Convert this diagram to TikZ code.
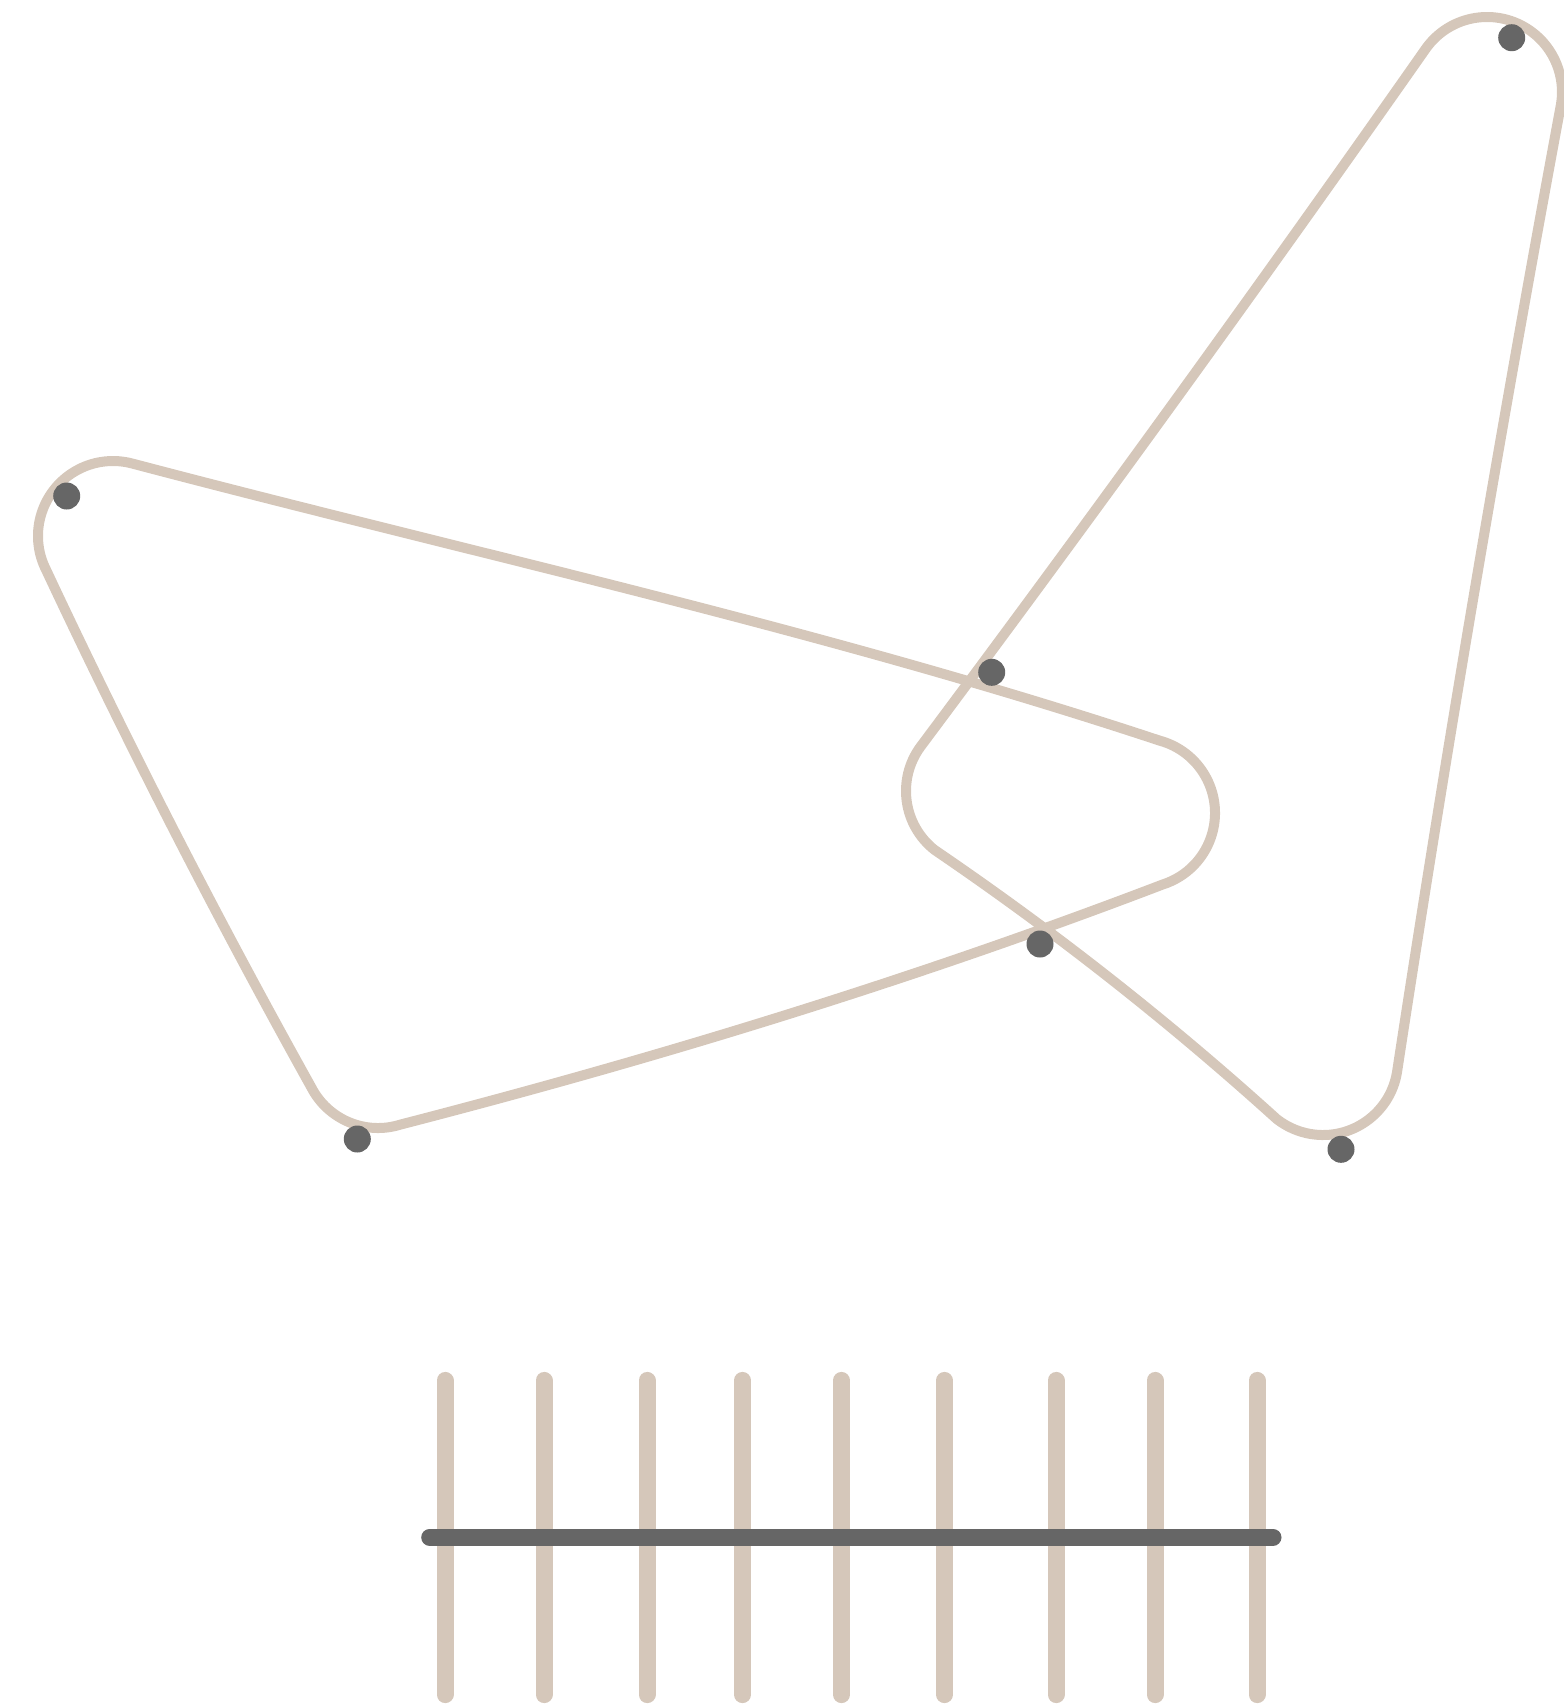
\documentclass[tikz,border=0pt]{standalone}
\definecolor{loopcol}{HTML}{D5C7BA}
\definecolor{dotcol}{HTML}{666666}
\begin{document}
\begin{tikzpicture}[x=1pt,y=-1pt,
  loopline/.style={draw=loopcol, line width=10pt, line join=round},
  dotmark/.style={circle, fill=dotcol, inner sep=0pt, minimum size=27pt},
  tickbar/.style={draw=loopcol, line width=17pt, line cap=round},
  railbar/.style={draw=dotcol, line width=17pt, line cap=round}]
\useasboundingbox (0,0) rectangle (1564,1706);
% left rounded triangle
\draw[loopline] (132.53,463.59)
  .. controls (475.38,553.99) and (822.41,628.95) .. (1159.53,740.59)
  arc[start angle=-74.91, end angle=72.52, radius=75]
  .. controls (913.34,979.80) and (658.74,1057.89) .. (400.53,1124.54)
  arc[start angle=72.52, end angle=152.86, radius=75]
  .. controls (216.97,917.94) and (128.63,745.60) .. (46.26,570.21)
  arc[start angle=152.86, end angle=285.09, radius=75] -- cycle;
% right rounded triangle
\draw[loopline] (1560.95,104.53)
  .. controls (1501.05,426.31) and (1446.39,748.97) .. (1396.95,1072.53)
  arc[start angle=9.62, end angle=128.19, radius=75]
  .. controls (1168.81,1021.42) and (1054.81,931.76) .. (934.63,849.95)
  arc[start angle=128.19, end angle=215.90, radius=75]
  .. controls (1092.40,516.54) and (1261.06,283.54) .. (1426.25,48.02)
  arc[start angle=215.90, end angle=369.62, radius=75] -- cycle;
% dots
\node[dotmark] (d1) at (1511.7,37.7) {};
\node[dotmark] (d2) at (66.7,496) {};
\node[dotmark] (d3) at (991.7,672.3) {};
\node[dotmark] (d4) at (1040,944) {};
\node[dotmark] (d5) at (357.3,1139) {};
\node[dotmark] (d6) at (1341,1149.3) {};
% comb
\foreach \i/\x in {1/445,2/544,3/647,4/742.5,5/841.5,6/944.5,7/1056,8/1155,9/1257} {
  \coordinate (t\i) at (\x,1380.4);
  \coordinate (b\i) at (\x,1694.6);
  \draw[tickbar] (t\i) -- (b\i);
}
\coordinate (rl) at (429.7,1537.3);
\coordinate (rr) at (1273,1537.3);
\draw[railbar] (rl) -- (rr);
\end{tikzpicture}
\end{document}
